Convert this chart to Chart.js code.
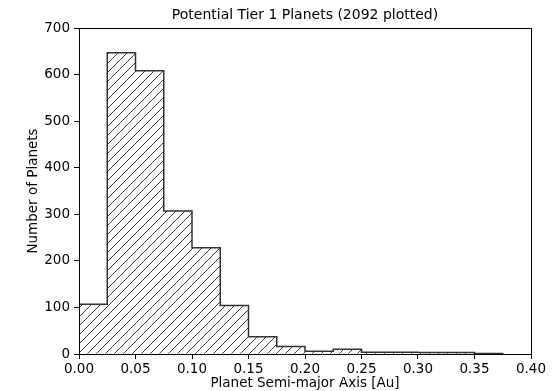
<!DOCTYPE html>
<html lang="en">
<head>
    <meta charset="UTF-8">
    <title>Potential Tier 1 Planets</title>
    <script src="https://cdn.jsdelivr.net/npm/chart.js"></script>
    <style>
        body {
            margin: 0;
            background-color: #ffffff;
        }
        #wrap {
            width: 559px;
            height: 391px;
        }
    </style>
</head>
<body>
    <div id="wrap"><canvas id="hist"></canvas></div>
    <script>
        // Histogram bins (semi-major axis, Au) and planet counts
        const binEdges = [0.000, 0.025, 0.050, 0.075, 0.100, 0.125, 0.150, 0.175, 0.200, 0.225, 0.250, 0.275, 0.300, 0.325, 0.350, 0.375];
        const counts = [107, 647, 608, 307, 228, 104, 37, 16, 6, 10, 4, 4, 3, 3, 1];
        const xTicks = [0.00, 0.05, 0.10, 0.15, 0.20, 0.25, 0.30, 0.35, 0.40];
        const yTicks = [0, 100, 200, 300, 400, 500, 600, 700];

        // Diagonal "/" hatch pattern
        function makeHatch() {
            const size = 9;
            const c = document.createElement('canvas');
            c.width = size;
            c.height = size;
            const g = c.getContext('2d');
            g.strokeStyle = '#222';
            g.lineWidth = 0.9;
            g.beginPath();
            g.moveTo(0, size); g.lineTo(size, 0);
            g.moveTo(-1, 1); g.lineTo(1, -1);
            g.moveTo(size - 1, size + 1); g.lineTo(size + 1, size - 1);
            g.stroke();
            return g.createPattern(c, 'repeat');
        }

        const barData = counts.map((v, i) => ({ x: (binEdges[i] + binEdges[i + 1]) / 2, y: v }));

        // step outline: up from zero, across each bin, down at the end
        const outline = [{ x: binEdges[0], y: 0 }];
        counts.forEach((v, i) => {
            outline.push({ x: binEdges[i], y: v });
            outline.push({ x: binEdges[i + 1], y: v });
        });
        outline.push({ x: binEdges[binEdges.length - 1], y: 0 });

        // full box around plot area (matplotlib spines)
        const frame = {
            id: 'frame',
            afterDatasetsDraw(chart) {
                const a = chart.chartArea;
                const ctx = chart.ctx;
                ctx.save();
                ctx.strokeStyle = '#000';
                ctx.lineWidth = 1;
                ctx.strokeRect(Math.round(a.left) + 0.5, Math.round(a.top) + 0.5,
                    Math.round(a.right - a.left), Math.round(a.bottom - a.top));
                ctx.restore();
            }
        };

        const font = { family: 'DejaVu Sans', size: 13.5 };

        new Chart(document.getElementById('hist').getContext('2d'), {
            type: 'bar',
            data: {
                datasets: [
                    {
                        type: 'line',
                        data: outline,
                        borderColor: '#333',
                        borderWidth: 1.5,
                        pointRadius: 0,
                        tension: 0,
                        fill: false,
                        order: 0
                    },
                    {
                        data: barData,
                        backgroundColor: makeHatch(),
                        borderWidth: 0,
                        barPercentage: 1,
                        categoryPercentage: 1,
                        order: 1
                    }
                ]
            },
            plugins: [frame],
            options: {
                responsive: true,
                maintainAspectRatio: false,
                animation: false,
                layout: { padding: { left: 0, right: 28, top: 0, bottom: 0 } },
                plugins: {
                    legend: { display: false },
                    tooltip: { enabled: false },
                    title: {
                        display: true,
                        fullSize: false,
                        text: 'Potential Tier 1 Planets (2092 plotted)',
                        color: '#000',
                        font: { family: 'DejaVu Sans', size: 14, weight: 'normal' },
                        padding: { top: 7, bottom: 4.2 }
                    }
                },
                scales: {
                    x: {
                        type: 'linear',
                        min: 0,
                        max: 0.4,
                        offset: false,
                        afterBuildTicks: s => { s.ticks = xTicks.map(v => ({ value: v })); },
                        afterFit: s => { s.height = 37; },
                        ticks: {
                            color: '#000',
                            font: font,
                            padding: 2,
                            maxRotation: 0,
                            callback: v => v.toFixed(2)
                        },
                        grid: { display: true, offset: false, drawOnChartArea: false, drawTicks: true, tickLength: 5, color: '#000' },
                        border: { color: '#000' },
                        title: { display: true, text: 'Planet Semi-major Axis [Au]', color: '#000', font: font, padding: { top: 0, bottom: -1 } }
                    },
                    y: {
                        min: 0,
                        max: 700,
                        afterBuildTicks: s => { s.ticks = yTicks.map(v => ({ value: v })); },
                        afterFit: s => { s.width = 79; },
                        ticks: { color: '#000', font: font, padding: 4 },
                        grid: { display: true, drawOnChartArea: false, drawTicks: true, tickLength: 5, color: '#000' },
                        border: { color: '#000' },
                        title: { display: true, text: 'Number of Planets', color: '#000', font: font, padding: { top: 25, bottom: 0 } }
                    }
                }
            }
        });
    </script>
</body>
</html>
